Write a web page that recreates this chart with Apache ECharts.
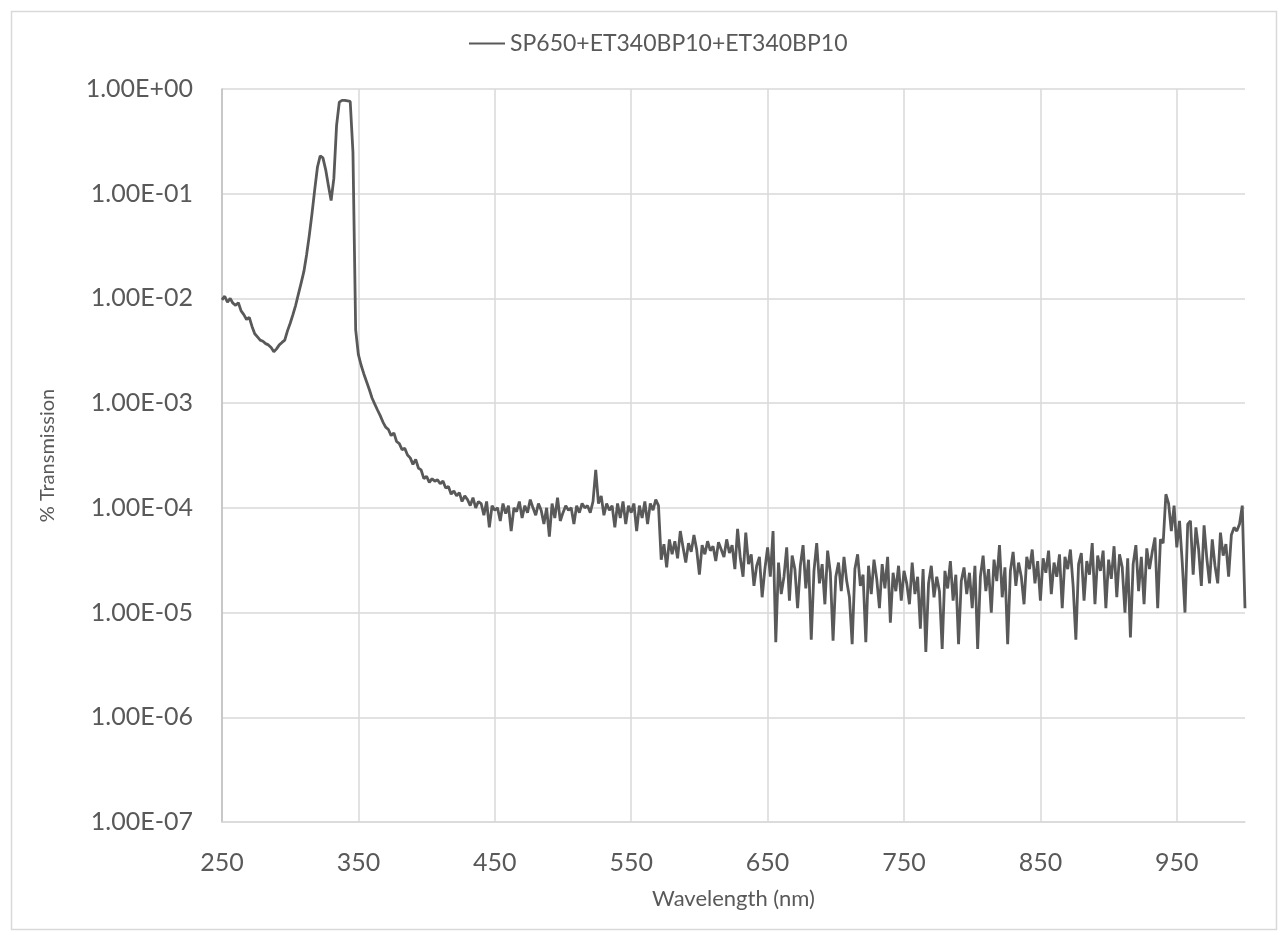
<!DOCTYPE html>
<html>
<head>
<meta charset="utf-8">
<script src="https://cdn.jsdelivr.net/npm/echarts@6/dist/echarts.min.js"></script>
<style>html,body{margin:0;padding:0;background:#fff}#c{width:1283px;height:935px}</style>
</head>
<body>
<div id="c"></div>
<script>
const seriesName = 'SP650+ET340BP10+ET340BP10';
const xTicks = [250, 350, 450, 550, 650, 750, 850, 950];
const yTicks = [1e0, 1e-1, 1e-2, 1e-3, 1e-4, 1e-5, 1e-6, 1e-7];
const wlStart = 250;
const wlStep = 2;
const transmission = [
  9.7e-3, 1.05e-2, 9.2e-3, 1.0e-2, 9.0e-3, 8.6e-3, 9.1e-3, 7.6e-3, 7.0e-3, 6.3e-3,
  6.6e-3, 5.4e-3, 4.6e-3, 4.3e-3, 4.0e-3, 3.9e-3, 3.7e-3, 3.6e-3, 3.4e-3, 3.1e-3,
  3.3e-3, 3.6e-3, 3.8e-3, 4.0e-3, 4.9e-3, 5.8e-3, 7.0e-3, 8.6e-3, 1.1e-2, 1.4e-2,
  1.8e-2, 2.6e-2, 4.0e-2, 6.5e-2, 1.1e-1, 1.8e-1, 2.3e-1, 2.2e-1, 1.7e-1, 1.2e-1,
  8.6e-2, 1.4e-1, 4.5e-1, 7.5e-1, 7.8e-1, 7.8e-1, 7.7e-1, 7.6e-1, 2.5e-1, 5.0e-3,
  2.9e-3, 2.3e-3, 1.9e-3, 1.6e-3, 1.35e-3, 1.12e-3, 9.8e-4, 8.6e-4, 7.6e-4, 6.6e-4,
  5.9e-4, 5.6e-4, 4.9e-4, 5.2e-4, 4.3e-4, 4.1e-4, 3.6e-4, 3.7e-4, 3.2e-4, 3.0e-4,
  2.6e-4, 2.9e-4, 2.4e-4, 2.3e-4, 1.9e-4, 2.0e-4, 1.75e-4, 1.9e-4, 1.8e-4, 1.85e-4,
  1.7e-4, 1.8e-4, 1.55e-4, 1.6e-4, 1.35e-4, 1.45e-4, 1.3e-4, 1.4e-4, 1.15e-4, 1.3e-4,
  1.2e-4, 1.05e-4, 1.25e-4, 1.0e-4, 1.15e-4, 1.1e-4, 8.5e-5, 1.15e-4, 6.5e-5, 1.05e-4,
  9.5e-5, 1.0e-4, 7.5e-5, 1.1e-4, 8.8e-5, 1.05e-4, 6.0e-5, 1.0e-4, 9.2e-5, 1.15e-4,
  8.0e-5, 1.05e-4, 9.0e-5, 1.2e-4, 1.0e-4, 8.5e-5, 1.1e-4, 9.5e-5, 7.0e-5, 1.0e-4,
  5.3e-5, 1.1e-4, 8.0e-5, 1.25e-4, 7.5e-5, 9.0e-5, 1.05e-4, 9.5e-5, 1.0e-4, 7.0e-5,
  1.05e-4, 9.0e-5, 1.1e-4, 1.0e-4, 1.05e-4, 9.0e-5, 1.15e-4, 2.3e-4, 1.1e-4, 1.3e-4,
  8.5e-5, 1.1e-4, 9.5e-5, 1.05e-4, 6.5e-5, 1.1e-4, 8.0e-5, 1.15e-4, 7.0e-5, 1.05e-4,
  9.0e-5, 1.1e-4, 6.0e-5, 1.05e-4, 8.0e-5, 1.15e-4, 7.0e-5, 1.1e-4, 9.5e-5, 1.2e-4,
  1.05e-4, 3.2e-5, 4.5e-5, 2.7e-5, 5.0e-5, 3.6e-5, 4.8e-5, 3.3e-5, 6.0e-5, 4.2e-5,
  3.0e-5, 4.6e-5, 3.8e-5, 5.5e-5, 4.0e-5, 2.3e-5, 4.4e-5, 3.6e-5, 4.8e-5, 3.9e-5,
  4.3e-5, 3.1e-5, 4.7e-5, 4.0e-5, 3.4e-5, 5.0e-5, 3.7e-5, 4.4e-5, 2.6e-5, 6.3e-5,
  3.3e-5, 2.2e-5, 5.8e-5, 2.9e-5, 3.6e-5, 1.8e-5, 2.8e-5, 3.4e-5, 1.4e-5, 2.6e-5,
  4.2e-5, 2.2e-5, 6.0e-5, 5.2e-6, 3.0e-5, 1.5e-5, 2.2e-5, 4.2e-5, 1.3e-5, 3.5e-5,
  2.6e-5, 1.1e-5, 2.8e-5, 4.4e-5, 1.7e-5, 3.2e-5, 5.5e-6, 2.5e-5, 4.6e-5, 1.9e-5,
  2.9e-5, 1.2e-5, 3.9e-5, 2.4e-5, 5.4e-6, 2.2e-5, 3.0e-5, 1.6e-5, 3.4e-5, 2.0e-5,
  1.4e-5, 5.0e-6, 2.6e-5, 3.6e-5, 1.8e-5, 2.3e-5, 5.2e-6, 2.8e-5, 1.5e-5, 3.2e-5,
  2.1e-5, 1.1e-5, 2.9e-5, 1.7e-5, 3.4e-5, 8.0e-6, 2.4e-5, 1.6e-5, 2.8e-5, 1.3e-5,
  2.5e-5, 1.9e-5, 1.2e-5, 3.0e-5, 1.5e-5, 2.2e-5, 7.0e-6, 2.6e-5, 4.2e-6, 1.9e-5,
  2.8e-5, 1.4e-5, 2.2e-5, 1.6e-5, 4.5e-6, 2.5e-5, 1.7e-5, 3.1e-5, 1.3e-5, 2.3e-5,
  5.0e-6, 2.0e-5, 2.7e-5, 1.5e-5, 2.4e-5, 1.1e-5, 2.8e-5, 4.5e-6, 2.2e-5, 3.5e-5,
  1.6e-5, 2.6e-5, 1.0e-5, 3.2e-5, 2.0e-5, 4.4e-5, 1.4e-5, 2.7e-5, 5.0e-6, 2.5e-5,
  3.8e-5, 1.8e-5, 3.0e-5, 2.2e-5, 1.2e-5, 3.4e-5, 2.6e-5, 4.0e-5, 1.9e-5, 3.1e-5,
  1.3e-5, 3.3e-5, 2.4e-5, 3.9e-5, 1.5e-5, 3.0e-5, 2.2e-5, 3.6e-5, 1.1e-5, 3.4e-5,
  2.6e-5, 4.0e-5, 1.8e-5, 5.5e-6, 2.9e-5, 3.7e-5, 1.3e-5, 3.1e-5, 2.3e-5, 4.6e-5,
  1.2e-5, 3.5e-5, 2.5e-5, 3.9e-5, 1.1e-5, 3.2e-5, 2.1e-5, 4.3e-5, 1.4e-5, 3.6e-5,
  2.7e-5, 1.0e-5, 3.3e-5, 5.8e-6, 2.9e-5, 4.4e-5, 1.6e-5, 3.4e-5, 1.2e-5, 4.1e-5,
  2.6e-5, 3.8e-5, 5.2e-5, 1.1e-5, 5.0e-5, 4.6e-5, 1.35e-4, 1.1e-4, 6.0e-5, 1.05e-4,
  4.2e-5, 7.5e-5, 3.0e-5, 1.0e-5, 7.0e-5, 7.5e-5, 2.3e-5, 6.5e-5, 4.0e-5, 1.8e-5,
  6.8e-5, 3.3e-5, 1.9e-5, 5.0e-5, 2.8e-5, 1.9e-5, 5.8e-5, 3.5e-5, 4.5e-5, 2.2e-5,
  5.5e-5, 6.5e-5, 6.0e-5, 7.0e-5, 1.05e-4, 1.1e-5
];

const data = transmission.map((v, i) => [wlStart + i * wlStep, v]);
const FONT = 'Lato';
const TXT = '#595959';

function fmtExp(v) {
  const e = Math.round(Math.log10(v));
  const m = v / Math.pow(10, e);
  const s = e < 0 ? '-' : '+';
  const a = Math.abs(e);
  return m.toFixed(2) + 'E' + s + (a < 10 ? '0' + a : '' + a);
}

const chart = echarts.init(document.getElementById('c'), null, {renderer: 'canvas'});
chart.setOption({
  backgroundColor: '#ffffff',
  animation: false,
  textStyle: {fontFamily: FONT, color: TXT},
  graphic: [{
    type: 'rect', left: 9, top: 9,
    shape: {width: 1265, height: 918},
    style: {fill: 'none', stroke: '#d9d9d9', lineWidth: 1.5},
    silent: true, z: -10
  }],
  legend: {
    show: true,
    left: 464, top: 27,
    itemWidth: 36, itemHeight: 14, itemGap: 4,
    textStyle: {fontFamily: FONT, fontSize: 23, color: TXT, padding: [0, 0, 0, 0]},
    data: [{name: seriesName, icon: 'path://M0,6L36,6L36,8L0,8Z'}]
  },
  grid: {left: 222, right: 38, top: 89, bottom: 113, containLabel: false, outerBoundsMode: 'none'},
  xAxis: {
    type: 'value', min: 250, max: 1000, interval: 100,
    name: 'Wavelength (nm)', nameLocation: 'middle', nameGap: 66,
    nameTextStyle: {fontFamily: FONT, fontSize: 22, color: TXT},
    axisLine: {show: true, lineStyle: {color: '#d9d9d9', width: 1.5}},
    axisTick: {show: false, customValues: xTicks},
    axisLabel: {customValues: xTicks, margin: 28, fontFamily: FONT, fontSize: 25, color: TXT},
    splitLine: {show: true, lineStyle: {color: '#d9d9d9', width: 1.5}}
  },
  yAxis: {
    type: 'log', logBase: 10, min: 1e-7, max: 1,
    name: '% Transmission', nameLocation: 'middle', nameGap: 164, nameRotate: 90,
    nameTextStyle: {fontFamily: FONT, fontSize: 20, color: TXT},
    axisLine: {show: true, lineStyle: {color: '#bfbfbf', width: 1.5}},
    axisTick: {show: false},
    axisLabel: {margin: 29, fontFamily: FONT, fontSize: 25, color: TXT, formatter: fmtExp},
    splitLine: {show: true, lineStyle: {color: '#d9d9d9', width: 1.5}}
  },
  series: [{
    name: seriesName,
    type: 'line',
    data: data,
    symbol: 'none',
    smooth: false,
    lineStyle: {color: '#595959', width: 2.8},
    itemStyle: {color: '#595959'}
  }]
});
</script>
</body>
</html>
